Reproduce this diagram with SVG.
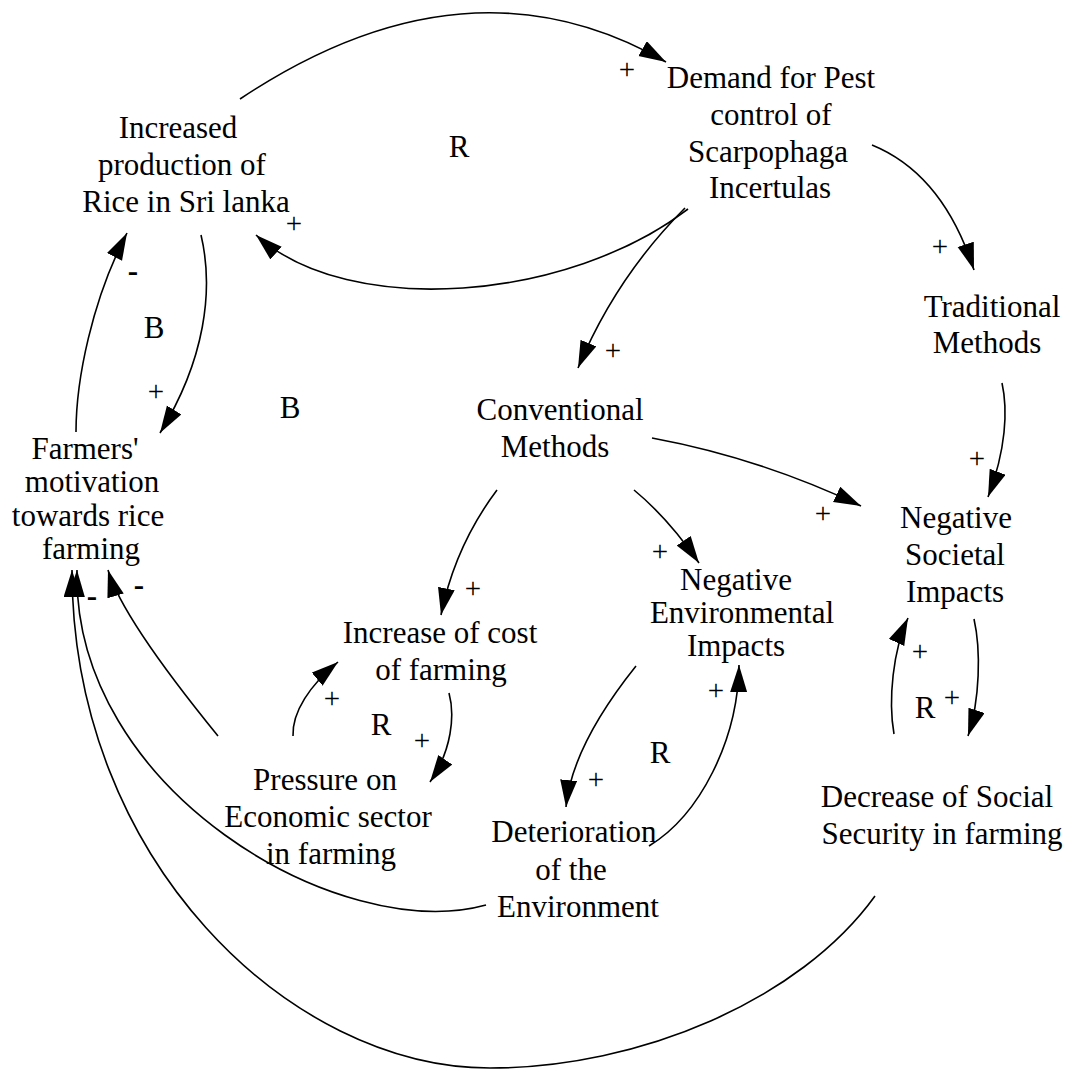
<svg xmlns="http://www.w3.org/2000/svg" width="1069" height="1070" viewBox="0 0 1069 1070">
<style>
.n{font-size:31px;text-anchor:middle}
.p{font-size:29px;text-anchor:middle}
.m{font-size:31px;font-weight:bold;text-anchor:middle}
.l{font-size:31px;text-anchor:middle}
.c{fill:none;stroke:#000;stroke-width:1.6;marker-end:url(#ah)}
</style>
<defs>
<marker id="ah" markerUnits="userSpaceOnUse" markerWidth="28" markerHeight="18" refX="27" refY="8.5" orient="auto" viewBox="0 0 28 18"><path d="M0,0 L27,8.5 L0,17 Z" fill="#000"/></marker>
</defs>
<rect width="1069" height="1070" fill="#fff"/>
<g id="connectors">
<path class="c" d="M240,99 Q467,-52.5 666,62"/>
<path class="c" d="M688,209 C570,300 350,320 256,235"/>
<path class="c" d="M872,145 Q943,174 974,270"/>
<path class="c" d="M685,208 Q616,277 578,368"/>
<path class="c" d="M201,235 C214,290 205,360 160,433"/>
<path class="c" d="M76,432 C76,380 92,300 127,233"/>
<path class="c" d="M1002,383 C1008,410 1006,450 988,497"/>
<path class="c" d="M652,438 Q760,458 861,506"/>
<path class="c" d="M497,490 Q455,546 441,615"/>
<path class="c" d="M634,490 Q668,518 699,563"/>
<path class="c" d="M449,693 C455,715 452,750 430,782"/>
<path class="c" d="M293,736 C292,712 310,685 338,662"/>
<path class="c" d="M218,736 Q122,618 108,570"/>
<path class="c" d="M636,666 Q572,746 566,807"/>
<path class="c" d="M649,846 C700,815 738,740 739,665"/>
<path class="c" d="M486,905 C340,945 72,790 77,570"/>
<path class="c" d="M974,619 C981,650 980,700 968,736"/>
<path class="c" d="M894,734 C888,700 893,650 908,618"/>
<path class="c" d="M875,896 C800,1000 640,1068 490,1068 C290,1068 72,860 72,570"/>
</g>
<g font-family="Liberation Serif, Times New Roman, serif" fill="#000">
<g id="n-rice">
<text class="n"><tspan x="178" y="138">Increased</tspan><tspan x="182" y="175">production of</tspan><tspan x="186" y="212">Rice in Sri lanka</tspan></text>
</g>
<g id="n-demand">
<text class="n"><tspan x="771" y="88">Demand for Pest</tspan><tspan x="771" y="125">control of</tspan><tspan x="768" y="162">Scarpophaga</tspan><tspan x="770" y="198">Incertulas</tspan></text>
</g>
<g id="n-traditional">
<text class="n"><tspan x="992" y="317">Traditional</tspan><tspan x="987" y="353">Methods</tspan></text>
</g>
<g id="n-conventional">
<text class="n"><tspan x="560" y="420">Conventional</tspan><tspan x="555" y="457">Methods</tspan></text>
</g>
<g id="n-farmers">
<text class="n"><tspan x="85" y="459">Farmers'</tspan><tspan x="92" y="492">motivation</tspan><tspan x="88" y="526">towards rice</tspan><tspan x="91" y="559">farming</tspan></text>
</g>
<g id="n-negsoc">
<text class="n"><tspan x="956" y="528">Negative</tspan><tspan x="955" y="565">Societal</tspan><tspan x="955" y="602">Impacts</tspan></text>
</g>
<g id="n-negenv">
<text class="n"><tspan x="736" y="590">Negative</tspan><tspan x="742" y="623">Environmental</tspan><tspan x="736" y="656">Impacts</tspan></text>
</g>
<g id="n-cost">
<text class="n"><tspan x="440" y="643">Increase of cost</tspan><tspan x="441" y="680">of farming</tspan></text>
</g>
<g id="n-pressure">
<text class="n"><tspan x="325" y="790">Pressure on</tspan><tspan x="328" y="827">Economic sector</tspan><tspan x="331" y="864">in farming</tspan></text>
</g>
<g id="n-deterioration">
<text class="n"><tspan x="574" y="842">Deterioration</tspan><tspan x="571" y="880">of the</tspan><tspan x="578" y="917">Environment</tspan></text>
</g>
<g id="n-decrease">
<text class="n"><tspan x="937" y="807">Decrease of Social</tspan><tspan x="942" y="844">Security in farming</tspan></text>
</g>
<g id="polarity">
<text class="p" x="627" y="79">+</text>
<text class="p" x="294" y="233">+</text>
<text class="p" x="940" y="256">+</text>
<text class="p" x="613" y="360">+</text>
<text class="p" x="156" y="401">+</text>
<text class="p" x="977" y="468">+</text>
<text class="p" x="823" y="523">+</text>
<text class="p" x="473" y="598">+</text>
<text class="p" x="660" y="561">+</text>
<text class="p" x="422" y="750">+</text>
<text class="p" x="332" y="708">+</text>
<text class="p" x="596" y="789">+</text>
<text class="p" x="716" y="700">+</text>
<text class="p" x="952" y="707">+</text>
<text class="p" x="920" y="661">+</text>
<text class="m" x="133" y="281">-</text>
<text class="m" x="139" y="595">-</text>
<text class="m" x="92" y="606">-</text>
</g>
<g id="loops">
<text class="l" x="459" y="157">R</text>
<text class="l" x="154" y="338">B</text>
<text class="l" x="290" y="418">B</text>
<text class="l" x="381" y="735">R</text>
<text class="l" x="660" y="763">R</text>
<text class="l" x="925" y="718">R</text>
</g>
</g>
</svg>
